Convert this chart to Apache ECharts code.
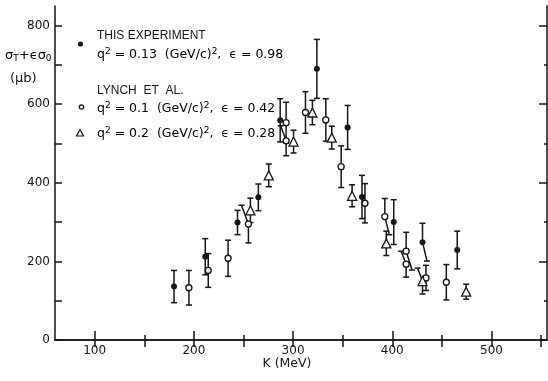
<!DOCTYPE html>
<html>
<head>
<meta charset="utf-8">
<script src="https://cdn.jsdelivr.net/npm/echarts@6/dist/echarts.min.js"></script>
<style>
  html, body { margin: 0; padding: 0; background: #fff; }
  #chart { width: 548px; height: 381px; }
</style>
</head>
<body>
<div id="chart"></div>
<script>
// This experiment: q^2 = 0.13 (GeV/c)^2, eps = 0.98
const thisK    = [180, 211.5, 244, 265, 287, 324, 355, 369.5, 401.5, 430.5, 465.5];
const thisSig  = [136, 212, 299, 363, 559, 690, 541, 364, 300, 249, 229];
const thisErr  = [41, 46, 31, 34, 55, 75, 56, 55, 57, 48, 48];
// K where a bar end is displaced sideways to clear a neighbour (null = straight)
const thisTopK = [null, null, null, null, null, null, null, null, null, null, null];
const thisBotK = [null, null, null, null, null, null, null, null, null, 435, null];

// Lynch et al.: q^2 = 0.1 (GeV/c)^2, eps = 0.42
const lynchK    = [195, 214.5, 234.5, 255, 293, 293, 312.5, 333, 348.5, 372.5, 392.5, 414, 414, 434, 454.5];
const lynchSig  = [133, 177, 208, 295, 553, 507, 579, 560, 441, 348, 314, 226, 193, 158, 147];
const lynchErr  = [44, 43, 46, 48, 52, 38, 53, 54, 53, 50, 46, 48, 33, 32, 45];
const lynchTopK = [null, null, null, 248, null, 287.5, null, null, null, null, null, null, 409, null, null];
const lynchBotK = [null, null, null, null, null, null, null, null, null, null, 397, 420, null, null, null];

// Lynch et al.: q^2 = 0.2 (GeV/c)^2, eps = 0.28
const triK    = [257, 275.5, 300.5, 319.5, 339, 359.5, 394, 430.5, 474.5];
const triSig  = [330, 419, 505, 579, 515, 367, 246, 150, 123];
const triErr  = [31, 29, 29, 31, 29, 28, 31, 33, 19];
const triTopK = [null, null, null, null, null, null, null, 425.5, null];
const triBotK = [null, null, null, null, null, null, null, null, null];

// Axis ticks
const xLabelTicks = [100, 200, 300, 400, 500];
const xMinorTicks = [150, 250, 350, 450, 550];
const xTopTicks   = [100, 150, 200, 250, 300, 350, 400, 450, 500, 550];
const yLabelTicks = [0, 200, 400, 600, 800];
const yAllTicks   = [0, 100, 200, 300, 400, 500, 600, 700, 800];
const yOddTicks   = [100, 300, 500, 700];

const INK = '#151515';
const SANS = '"DejaVu Sans", sans-serif';
const CAPS = '"Liberation Sans", "DejaVu Sans", sans-serif';

function barData(k, s, e, tk, bk) {
  return k.map((v, i) => [v, s[i], e[i], tk[i] == null ? v : tk[i], bk[i] == null ? v : bk[i]]);
}

// error bar from the point up and down, with short horizontal caps
function errorBarItem(params, api) {
  const x = api.value(0), y = api.value(1), e = api.value(2);
  const c = api.coord([x, y]);
  const top = api.coord([api.value(3), y + e]);
  const bot = api.coord([api.value(4), y - e]);
  const w = 3;
  const st = { stroke: INK, lineWidth: 1.5 };
  return {
    type: 'group',
    children: [
      { type: 'line', shape: { x1: c[0], y1: c[1], x2: top[0], y2: top[1] }, style: st },
      { type: 'line', shape: { x1: c[0], y1: c[1], x2: bot[0], y2: bot[1] }, style: st },
      { type: 'line', shape: { x1: top[0] - w, y1: top[1], x2: top[0] + w, y2: top[1] }, style: st },
      { type: 'line', shape: { x1: bot[0] - w, y1: bot[1], x2: bot[0] + w, y2: bot[1] }, style: st }
    ]
  };
}

function errSeries(data) {
  return { type: 'custom', renderItem: errorBarItem, data: data, z: 2, silent: true,
           encode: { x: 0, y: 1 } };
}

const axisLineStyle = { show: true, lineStyle: { color: INK, width: 1.5 } };
const tickLabel = { fontSize: 12, fontFamily: SANS, color: INK };

const chart = echarts.init(document.getElementById('chart'), null, { renderer: 'canvas' });

const supRich = {
  base: { fontSize: 12.5, fontFamily: SANS, color: INK, lineHeight: 16 },
  sup: { fontSize: 9, fontFamily: SANS, color: INK, verticalAlign: 'top', lineHeight: 13 }
};
const subRich = {
  base: { fontSize: 13, fontFamily: SANS, color: INK, lineHeight: 16 },
  sub: { fontSize: 9, fontFamily: SANS, color: INK, verticalAlign: 'bottom', lineHeight: 12 }
};

chart.setOption({
  animation: false,
  backgroundColor: '#fff',
  grid: { left: 55, right: 1, top: 6, bottom: 41 },
  xAxis: [
    {
      type: 'value', min: 60, max: 556, position: 'bottom',
      axisLine: axisLineStyle,
      axisTick: { inside: true, length: 9, customValues: xLabelTicks, lineStyle: { color: INK, width: 1.5 } },
      axisLabel: Object.assign({ customValues: xLabelTicks, margin: 5 }, tickLabel),
      splitLine: { show: false }
    },
    {
      type: 'value', min: 60, max: 556, position: 'bottom',
      axisLine: { show: false },
      axisTick: { inside: true, length: 5, customValues: xMinorTicks, lineStyle: { color: INK, width: 1.5 } },
      axisLabel: { show: false }, splitLine: { show: false }
    },
    {
      type: 'value', min: 60, max: 556, position: 'top',
      axisLine: axisLineStyle,
      axisTick: { inside: true, length: 7, customValues: xTopTicks, lineStyle: { color: INK, width: 1.5 } },
      axisLabel: { show: false }, splitLine: { show: false }
    }
  ],
  yAxis: [
    {
      type: 'value', min: 0, max: 850, position: 'left',
      axisLine: axisLineStyle,
      axisTick: { inside: true, length: 7, customValues: yAllTicks, lineStyle: { color: INK, width: 1.5 } },
      axisLabel: Object.assign({ customValues: yLabelTicks, margin: 5 }, tickLabel),
      splitLine: { show: false }
    },
    {
      type: 'value', min: 0, max: 850, position: 'right',
      axisLine: axisLineStyle,
      axisTick: { inside: true, length: 8, customValues: yLabelTicks, lineStyle: { color: INK, width: 1.5 } },
      axisLabel: { show: false }, splitLine: { show: false }
    },
    {
      type: 'value', min: 0, max: 850, position: 'right',
      axisLine: { show: false },
      axisTick: { inside: true, length: 3, customValues: yOddTicks, lineStyle: { color: INK, width: 1.5 } },
      axisLabel: { show: false }, splitLine: { show: false }
    }
  ],
  series: [
    errSeries(barData(thisK, thisSig, thisErr, thisTopK, thisBotK)),
    errSeries(barData(lynchK, lynchSig, lynchErr, lynchTopK, lynchBotK)),
    errSeries(barData(triK, triSig, triErr, triTopK, triBotK)),
    {
      name: 'This experiment', type: 'scatter', z: 5,
      data: thisK.map((k, i) => [k, thisSig[i]]),
      symbol: 'circle', symbolSize: 6,
      itemStyle: { color: INK, opacity: 1 }
    },
    {
      name: 'Lynch q2=0.1', type: 'scatter', z: 5,
      data: lynchK.map((k, i) => [k, lynchSig[i]]),
      symbol: 'circle', symbolSize: 6,
      itemStyle: { color: '#fff', borderColor: INK, borderWidth: 1.3, opacity: 1 }
    },
    {
      name: 'Lynch q2=0.2', type: 'scatter', z: 5,
      data: triK.map((k, i) => [k, triSig[i]]),
      symbol: 'triangle', symbolSize: 9,
      itemStyle: { color: '#fff', borderColor: INK, borderWidth: 1.3, opacity: 1 }
    }
  ],
  graphic: [
    // axis titles
    { type: 'text', x: 287, y: 364,
      style: { text: 'K (MeV)', fontSize: 12.5, fontFamily: SANS, fill: INK, align: 'center', verticalAlign: 'middle' } },
    { type: 'text', left: 5, top: 49,
      style: { text: '{base|σ}{sub|T}{base|+ϵσ}{sub|0}', rich: subRich } },
    { type: 'text', left: 10, top: 72,
      style: { text: '(μb)', fontSize: 13, fontFamily: SANS, fill: INK } },
    // legend
    { type: 'circle', shape: { cx: 80.5, cy: 44, r: 2.6 }, style: { fill: INK } },
    { type: 'text', left: 97, top: 30,
      style: { text: 'THIS EXPERIMENT', fontSize: 12, fontFamily: CAPS, fill: INK } },
    { type: 'text', left: 97, top: 47,
      style: { text: '{base|q}{sup|2}{base| = 0.13  (GeV/c)}{sup|2}{base|,  ϵ = 0.98}', rich: supRich } },
    { type: 'circle', shape: { cx: 81.5, cy: 107, r: 2.2 }, style: { fill: '#fff', stroke: INK, lineWidth: 1.2 } },
    { type: 'text', left: 97, top: 85,
      style: { text: 'LYNCH  ET  AL.', fontSize: 12, fontFamily: CAPS, fill: INK } },
    { type: 'text', left: 97, top: 101,
      style: { text: '{base|q}{sup|2}{base| = 0.1  (GeV/c)}{sup|2}{base|,  ϵ = 0.42}', rich: supRich } },
    { type: 'polygon', shape: { points: [[80, 129.5], [76.5, 136], [83.5, 136]] },
      style: { fill: '#fff', stroke: INK, lineWidth: 1.2 } },
    { type: 'text', left: 97, top: 126,
      style: { text: '{base|q}{sup|2}{base| = 0.2  (GeV/c)}{sup|2}{base|,  ϵ = 0.28}', rich: supRich } }
  ]
});
</script>
</body>
</html>
